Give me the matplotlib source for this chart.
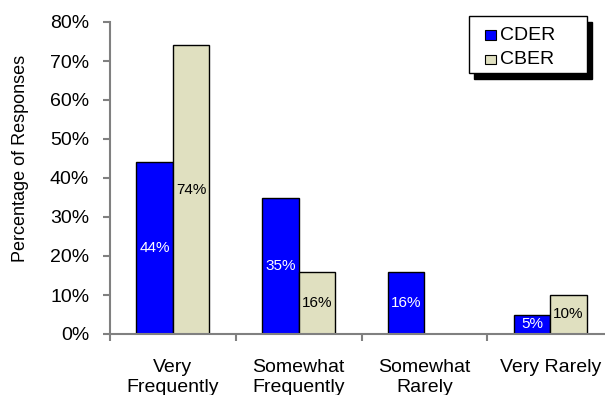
import matplotlib
matplotlib.use("Agg")
import matplotlib.pyplot as plt
import numpy as np
from matplotlib.patches import Rectangle

plt.rcParams['font.family'] = ['Liberation Sans', 'DejaVu Sans']

categories = ["Very\nFrequently", "Somewhat\nFrequently", "Somewhat\nRarely", "Very Rarely"]
cder = [44, 35, 16, 5]
cber = [74, 16, 0, 10]
cder_labels = ["44%", "35%", "16%", "5%"]
cber_labels = ["74%", "16%", "", "10%"]
yticks = [0, 10, 20, 30, 40, 50, 60, 70, 80]

W, H = 605, 395
fig = plt.figure(figsize=(W / 100, H / 100), dpi=100)
# axes extends past the right edge of the canvas
x0, x1 = 110, 613
y0, y1 = 334, 22
ax = fig.add_axes([x0 / W, 1 - y0 / H, (x1 - x0) / W, (y0 - y1) / H])

x = np.arange(len(categories))
bw = 0.29
gray = "#808080"
ax.bar(x - bw / 2, cder, bw, color="#0000FF", edgecolor="black", linewidth=1, label="CDER", zorder=3)
ax.bar(x + bw / 2, cber, bw, color="#E0E0C0", edgecolor="black", linewidth=1, label="CBER", zorder=3)

for xi, v, t in zip(x, cder, cder_labels):
    if t:
        ax.text(xi - bw / 2, v / 2, t, ha="center", va="center", color="white", fontsize=11, zorder=4)
for xi, v, t in zip(x, cber, cber_labels):
    if t:
        ax.text(xi + bw / 2, v / 2, t, ha="center", va="center", color="black", fontsize=11, zorder=4)

ax.set_xlim(-0.5, len(categories) - 0.5)
ax.set_ylim(0, 80)
ax.set_yticks(yticks)
ax.set_yticklabels([f"{t}%" for t in yticks], fontsize=14)
ax.set_xticks(np.arange(-0.5, len(categories) + 0.5, 1.0))
ax.set_xticklabels([])
ax.set_xticks(x, minor=True)
ax.set_xticklabels(categories, minor=True, fontsize=14, linespacing=1.25)
ax.tick_params(axis="x", which="minor", length=0, pad=18)
ax.tick_params(axis="x", which="major", length=5, color=gray, width=1.5)
ax.tick_params(axis="y", length=5, color=gray, width=1.5, pad=10)

for s in ["top", "right"]:
    ax.spines[s].set_visible(False)
for s in ["left", "bottom"]:
    ax.spines[s].set_color(gray)
    ax.spines[s].set_linewidth(1.5)
    ax.spines[s].set_zorder(5)

ax.set_ylabel("Percentage of Responses", fontsize=13)
ax.yaxis.set_label_coords((29 - x0) / (x1 - x0), (y0 - 158) / (y0 - y1))

# legend box with drop shadow
lx0, ly0, lx1, ly1 = 469, 16, 587, 73
fig.patches.append(Rectangle(((lx0 + 5) / W, 1 - (ly1 + 6) / H), (lx1 - lx0) / W, (ly1 - ly0) / H,
                             transform=fig.transFigure, facecolor="black", edgecolor="black", zorder=5))
fig.patches.append(Rectangle((lx0 / W, 1 - ly1 / H), (lx1 - lx0) / W, (ly1 - ly0) / H,
                             transform=fig.transFigure, facecolor="white", edgecolor="black", linewidth=1, zorder=6))
for i, (name, col) in enumerate([("CDER", "#0000FF"), ("CBER", "#E0E0C0")]):
    cy = 35 + i * 24
    fig.patches.append(Rectangle((485 / W, 1 - (cy + 4.5) / H), 11 / W, 9 / H, transform=fig.transFigure,
                                 facecolor=col, edgecolor="black", linewidth=0.8, zorder=7))
    fig.text(500 / W, 1 - cy / H, name, fontsize=14, va="center", ha="left", zorder=8)

fig.savefig("out.png", dpi=100)
